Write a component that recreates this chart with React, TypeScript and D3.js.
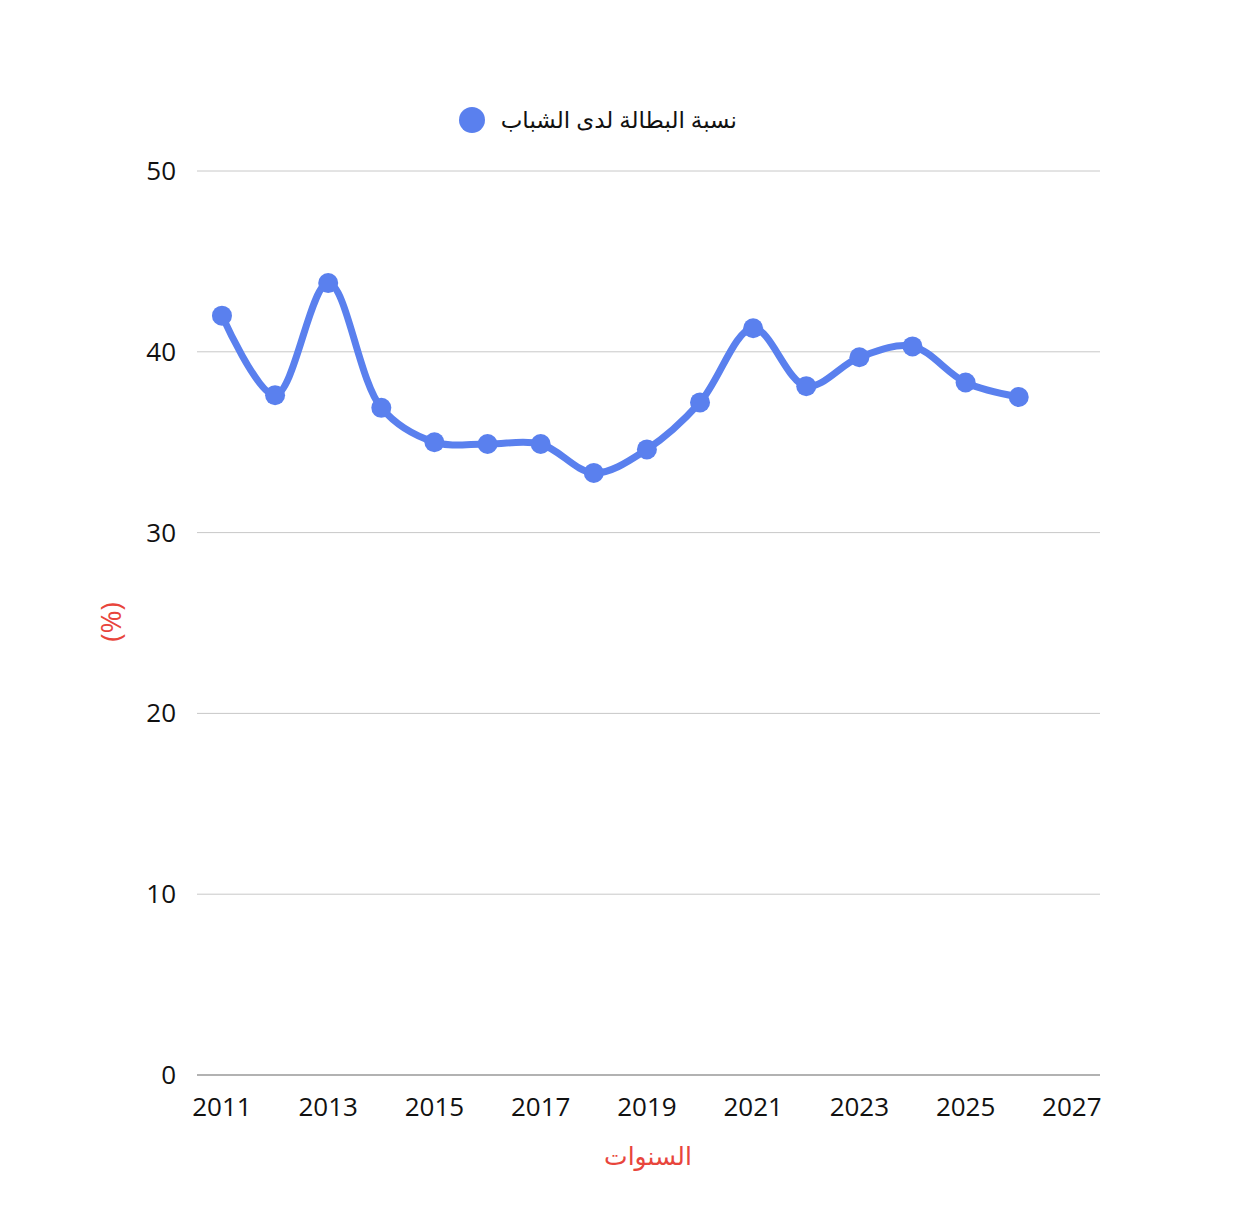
import React from 'react';
import * as d3 from 'd3';

const years = [2011, 2012, 2013, 2014, 2015, 2016, 2017, 2018, 2019, 2020, 2021, 2022, 2023, 2024, 2025, 2026];
const youthUnemployment = [42.0, 37.6, 43.8, 36.9, 35.0, 34.9, 34.9, 33.3, 34.6, 37.2, 41.3, 38.1, 39.7, 40.3, 38.3, 37.5];
const xTicks = [2011, 2013, 2015, 2017, 2019, 2021, 2023, 2025, 2027];
const yTicks = [0, 10, 20, 30, 40, 50];

const seriesName = 'نسبة البطالة لدى الشباب';
const xTitle = 'السنوات';
const yTitle = '(%)';

const width = 1228;
const height = 1216;
const left = 189;
const right = 1092;
const top = 163;
const bottom = 1067;
const blue = '#5a80ee';
const red = '#e8453c';
const font = "'Open Sans', 'DejaVu Sans', sans-serif";

export default function App() {
  const x = d3.scaleLinear().domain([2010.53, 2027.53]).range([left, right]);
  const y = d3.scaleLinear().domain([0, 50]).range([bottom, top]);

  const points = years.map((yr, i) => [yr, youthUnemployment[i]] as [number, number]);
  const line = d3.line<[number, number]>()
    .x(d => x(d[0]))
    .y(d => y(d[1]))
    .curve(d3.curveCatmullRom.alpha(0.5));

  return (
    <svg width={width} height={height} style={{ display: 'block', fontFamily: font }}>
      <rect width={width} height={height} fill="white" />

      {/* legend */}
      <circle cx={464} cy={112} r={13} fill={blue} />
      <text x={729} y={120} fontSize={23} fill="#111" textAnchor="end">
        {seriesName}
      </text>

      {/* grid */}
      {yTicks.filter(t => t !== 0).map(t => (
        <line key={t} x1={left} x2={right} y1={y(t)} y2={y(t)} stroke="#c8c8c8" strokeWidth={1} />
      ))}
      <line x1={left} x2={right} y1={y(0)} y2={y(0)} stroke="#999999" strokeWidth={1.3} />

      {/* y labels */}
      {yTicks.map(t => (
        <text key={t} x={168} y={y(t) + 9} textAnchor="end" fontSize={26} fill="#111">{t}</text>
      ))}

      {/* x labels */}
      {xTicks.map(t => (
        <text key={t} x={x(t)} y={1108} textAnchor="middle" fontSize={26} fill="#111">{t}</text>
      ))}

      {/* axis titles */}
      <text x={640} y={1157} textAnchor="middle" fontSize={25} fill={red}>{xTitle}</text>
      <text transform={`translate(113,${614}) rotate(-90)`} textAnchor="middle" fontSize={28} fill={red}>{yTitle}</text>

      {/* series */}
      <path d={line(points) ?? ''} fill="none" stroke={blue} strokeWidth={7} strokeLinejoin="round" strokeLinecap="round" />
      {points.map(p => (
        <circle key={p[0]} cx={x(p[0])} cy={y(p[1])} r={10} fill={blue} />
      ))}
    </svg>
  );
}
